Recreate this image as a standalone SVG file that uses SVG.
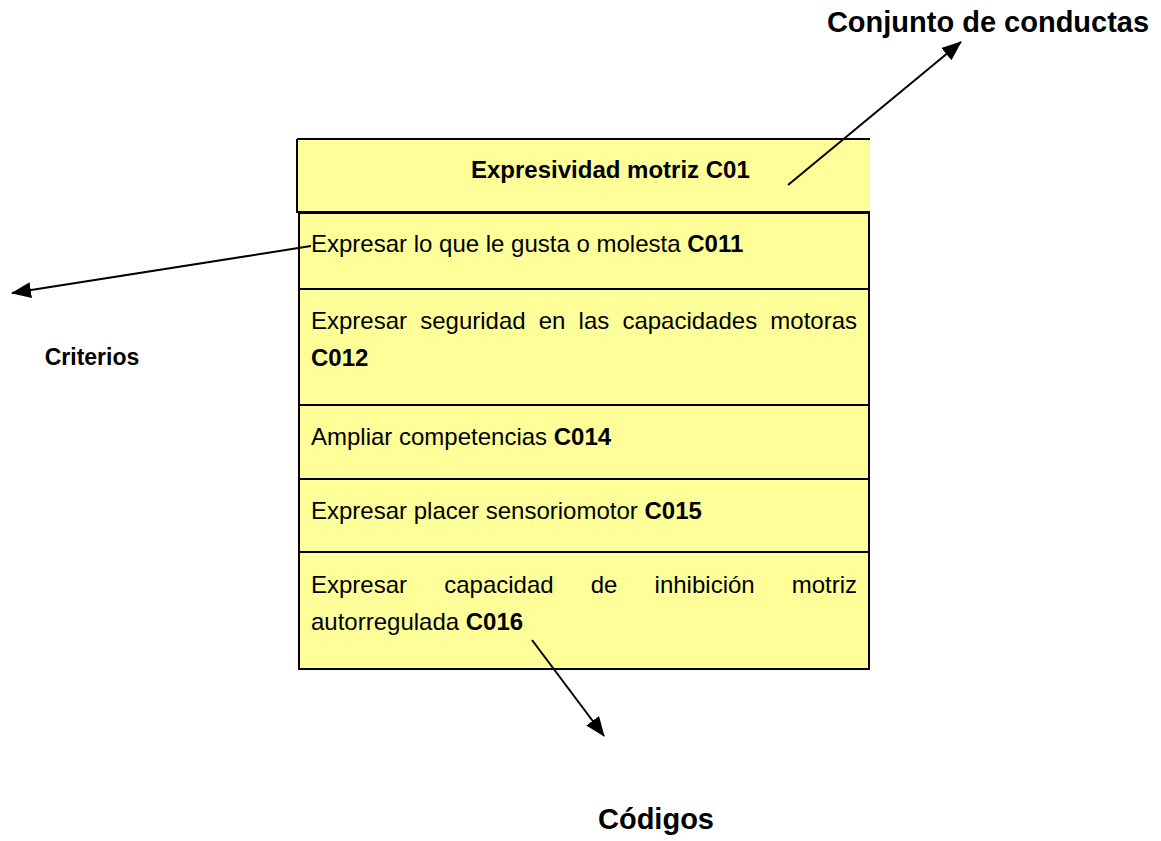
<svg xmlns="http://www.w3.org/2000/svg" width="1161" height="841" viewBox="0 0 1161 841">
  <style>
    .cell { fill: #FFFF99; stroke: none; }
    .border { stroke: #000; stroke-width: 2; fill: none; }
    .txt { font-family: "Liberation Sans", Arial, sans-serif; font-size: 24px; fill: #000; }
    .b { font-weight: bold; }
    .lbl { font-family: "Liberation Sans", Arial, sans-serif; font-weight: bold; fill: #000; }
    .conn { stroke: #000; stroke-width: 2; fill: none; marker-end: url(#ah); }
  </style>
  <defs>
    <marker id="ah" viewBox="0 0 20 16" refX="19" refY="8" markerWidth="20" markerHeight="16" markerUnits="userSpaceOnUse" orient="auto">
      <path d="M0,0 L20,8 L0,16 z" fill="#000"/>
    </marker>
  </defs>
  <rect width="1161" height="841" fill="#fff"/>

  <g id="header">
    <rect class="cell" x="297" y="139" width="573" height="74"/>
    <path class="border" d="M297,139 H870 M297,139 V213 M297,212 H870"/>
    <text class="txt b" x="471" y="178">Expresividad motriz C01</text>
  </g>

  <g id="body">
    <rect class="cell" x="299" y="213" width="570" height="456"/>
    <rect class="border" x="299" y="213" width="570" height="456"/>
  </g>

  <g id="row-c011">
    <text class="txt" x="311" y="252">Expresar lo que le gusta o molesta <tspan class="b">C011</tspan></text>
  </g>
  <g id="row-c012">
    <line class="border" x1="299" y1="289" x2="869" y2="289"/>
    <text class="txt" y="329"><tspan x="311">Expresar</tspan><tspan x="420.2">seguridad</tspan><tspan x="538.7">en</tspan><tspan x="578.6">las</tspan><tspan x="622.4">capacidades</tspan><tspan x="770.3">motoras</tspan></text>
    <text class="txt b" x="311" y="366">C012</text>
  </g>
  <g id="row-c014">
    <line class="border" x1="299" y1="405" x2="869" y2="405"/>
    <text class="txt" x="311" y="445">Ampliar competencias <tspan class="b">C014</tspan></text>
  </g>
  <g id="row-c015">
    <line class="border" x1="299" y1="479" x2="869" y2="479"/>
    <text class="txt" x="311" y="519">Expresar placer sensoriomotor <tspan class="b">C015</tspan></text>
  </g>
  <g id="row-c016">
    <line class="border" x1="299" y1="552" x2="869" y2="552"/>
    <text class="txt" y="593"><tspan x="311">Expresar</tspan><tspan x="444.2">capacidad</tspan><tspan x="590.7">de</tspan><tspan x="654.6">inhibición</tspan><tspan x="791.7">motriz</tspan></text>
    <text class="txt" x="311" y="630">autorregulada <tspan class="b">C016</tspan></text>
  </g>

  <g id="label-conjunto">
    <text class="lbl" x="988" y="32" font-size="29" text-anchor="middle">Conjunto de conductas</text>
  </g>
  <g id="label-criterios">
    <text class="lbl" x="92" y="365" font-size="23" text-anchor="middle">Criterios</text>
  </g>
  <g id="label-codigos">
    <text class="lbl" x="656" y="829" font-size="29" text-anchor="middle">Códigos</text>
  </g>

  <g id="connectors">
    <line class="conn" x1="788" y1="185" x2="961" y2="42"/>
    <line class="conn" x1="311" y1="246" x2="12" y2="293"/>
    <line class="conn" x1="532" y1="640" x2="604" y2="736"/>
  </g>
</svg>
